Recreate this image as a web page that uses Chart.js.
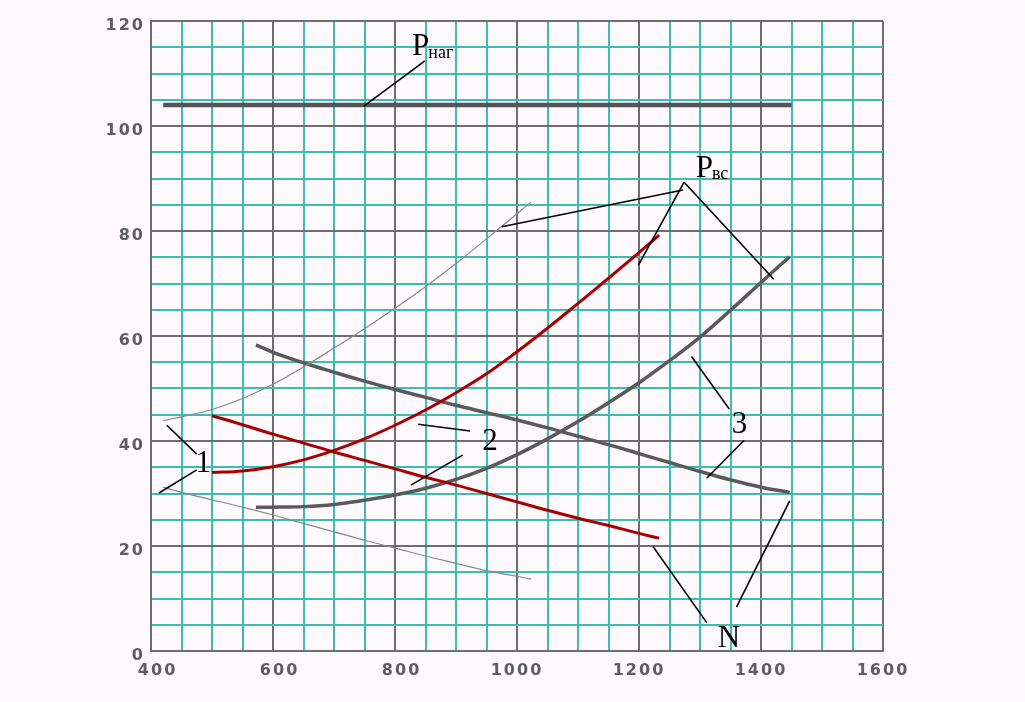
<!DOCTYPE html>
<html>
<head>
    <meta charset="utf-8">
    <title>P / N chart</title>
    <script src="https://cdn.jsdelivr.net/npm/chart.js"></script>
    <style>
        body { margin: 0; background: #fdf9fd; }
        #myChart { display: block; }
    </style>
</head>
<body>

<canvas id="myChart" width="1025" height="702"></canvas>

<script>
    // axis ticks
    const xTicks = { min: 400, max: 1600, step: 50, labelEvery: 200 };
    const yTicks = { min: 0, max: 120, step: 5, labelEvery: 20 };

    // P наг (flat line)
    const pNagX = [420, 1450];
    const pNagY = [104, 104];

    // curve set 1 (thin gray)
    const pvs1X = [420, 450, 500, 550, 600, 650, 700, 750, 800, 850, 900, 950, 1000, 1023];
    const pvs1Y = [43.9, 44.6, 46.0, 48.1, 50.8, 54.1, 57.7, 61.4, 65.3, 69.4, 73.8, 78.5, 83.3, 85.5];
    const n1X = [420, 450, 500, 550, 600, 650, 700, 750, 800, 850, 900, 950, 1000, 1023];
    const n1Y = [31.2, 30.2, 28.8, 27.4, 25.9, 24.3, 22.7, 21.1, 19.6, 18.1, 16.7, 15.3, 14.2, 13.7];

    // curve set 2 (red)
    const pvs2X = [500, 550, 600, 650, 700, 750, 800, 850, 900, 950, 1000, 1050, 1100, 1150, 1200, 1233];
    const pvs2Y = [34.0, 34.3, 35.1, 36.4, 38.2, 40.4, 43.0, 45.9, 49.2, 52.8, 57.0, 61.5, 66.2, 71.0, 75.9, 79.2];
    const n2X = [500, 550, 600, 650, 700, 750, 800, 850, 900, 950, 1000, 1050, 1100, 1150, 1200, 1233];
    const n2Y = [44.8, 43.1, 41.3, 39.6, 37.9, 36.3, 34.7, 33.1, 31.6, 30.0, 28.4, 26.8, 25.3, 23.9, 22.4, 21.5];

    // curve set 3 (dark gray)
    const pvs3X = [572, 600, 650, 700, 750, 800, 850, 900, 950, 1000, 1050, 1100, 1150, 1200, 1250, 1300, 1350, 1400, 1447];
    const pvs3Y = [27.4, 27.4, 27.5, 27.9, 28.7, 29.7, 31.0, 32.7, 34.8, 37.4, 40.4, 43.7, 47.3, 51.1, 55.3, 59.8, 64.9, 70.2, 75.1];
    const n3X = [572, 600, 650, 700, 750, 800, 850, 900, 950, 1000, 1050, 1100, 1150, 1200, 1250, 1300, 1350, 1400, 1447];
    const n3Y = [58.3, 56.9, 54.9, 53.1, 51.4, 49.8, 48.3, 46.8, 45.4, 44.0, 42.5, 40.9, 39.3, 37.6, 35.9, 34.2, 32.6, 31.2, 30.2];

    // leader lines, in data units: [x1, y1, x2, y2]
    const leaderLines = [
        [749, 103.8, 849, 112.4],      // P наг
        [975, 80.8, 1272, 87.8],       // P вс -> curve 1
        [1274, 89.3, 1199, 73.5],      // P вс -> curve 2
        [1274, 89.3, 1421, 70.8],      // P вс -> curve 3
        [426, 43.0, 475, 37.5],        // 1
        [413, 30.1, 475, 34.5],
        [838, 43.2, 923, 41.9],        // 2
        [826, 31.6, 911, 37.3],
        [1286, 56.1, 1348, 46.1],      // 3
        [1372, 40.1, 1311, 32.9],
        [1223, 19.9, 1311, 5.4],       // N
        [1447, 28.6, 1360, 8.4]
    ];

    // annotation texts (main text, subscript, x, baseline y)
    const noteTexts = [
        ['P', 'наг', 828, 113.5],
        ['P', 'вс', 1293, 90.3],
        ['1', '', 473, 34.1],
        ['2', '', 943, 38.3],
        ['3', '', 1352, 41.5],
        ['N', '', 1329, 0.7]
    ];

    function pts(xs, ys) {
        return xs.map((x, i) => ({ x: x, y: ys[i] }));
    }

    const TEAL = '#3bbdb4';
    const MAJOR = '#6e6e6e';

    function lineSet(label, xs, ys, color, width) {
        return {
            label: label,
            data: pts(xs, ys),
            borderColor: color,
            backgroundColor: color,
            borderWidth: width,
            pointRadius: 0,
            tension: 0.4,
            fill: false
        };
    }

    const bgPlugin = {
        id: 'bg',
        beforeDraw(chart) {
            const ctx = chart.ctx;
            ctx.save();
            ctx.fillStyle = '#fdf9fd';
            ctx.fillRect(0, 0, chart.width, chart.height);
            ctx.restore();
            ctx.letterSpacing = '2px';   // wide tick digits
        }
    };

    const notesPlugin = {
        id: 'notes',
        afterDatasetsDraw(chart) {
            const ctx = chart.ctx;
            const xs = chart.scales.x, ys = chart.scales.y;
            ctx.save();
            ctx.letterSpacing = '0px';
            ctx.strokeStyle = '#000';
            ctx.lineWidth = 1.6;
            leaderLines.forEach(l => {
                ctx.beginPath();
                ctx.moveTo(xs.getPixelForValue(l[0]), ys.getPixelForValue(l[1]));
                ctx.lineTo(xs.getPixelForValue(l[2]), ys.getPixelForValue(l[3]));
                ctx.stroke();
            });
            ctx.fillStyle = '#000';
            ctx.textBaseline = 'alphabetic';
            ctx.textAlign = 'left';
            noteTexts.forEach(t => {
                const px = xs.getPixelForValue(t[2]);
                const py = ys.getPixelForValue(t[3]);
                ctx.font = '31px "Liberation Serif"';
                ctx.fillText(t[0], px, py);
                if (t[1]) {
                    const w = ctx.measureText(t[0]).width;
                    ctx.font = '18px "Liberation Serif"';
                    ctx.fillText(t[1], px + w - 1, py + 2.5);
                }
            });
            ctx.restore();
        }
    };

    const config = {
        type: 'line',
        data: {
            datasets: [
                lineSet('P наг', pNagX, pNagY, '#555555', 4.5),
                lineSet('P вс 1', pvs1X, pvs1Y, '#8a8a8a', 1.2),
                lineSet('N 1', n1X, n1Y, '#8a8a8a', 1.2),
                lineSet('P вс 2', pvs2X, pvs2Y, '#a80000', 3),
                lineSet('N 2', n2X, n2Y, '#a80000', 3),
                lineSet('P вс 3', pvs3X, pvs3Y, '#5a5a5a', 3.5),
                lineSet('N 3', n3X, n3Y, '#5a5a5a', 3.5)
            ]
        },
        options: {
            responsive: false,
            animation: false,
            layout: { padding: { left: 0, top: 21, right: 142, bottom: 0 } },
            plugins: {
                legend: { display: false },
                tooltip: { enabled: false }
            },
            scales: {
                x: {
                    type: 'linear',
                    min: xTicks.min,
                    max: xTicks.max,
                    afterFit: s => { s.height = 51; },
                    border: { color: MAJOR, width: 2 },
                    grid: {
                        drawTicks: false,
                        lineWidth: 2,
                        color: c => (c.tick && c.tick.value % xTicks.labelEvery === 0) ? MAJOR : TEAL
                    },
                    ticks: {
                        stepSize: xTicks.step,
                        autoSkip: false,
                        maxRotation: 0,
                        padding: 10,
                        color: '#5e5e5e',
                        font: { family: 'DejaVu Sans', size: 16, weight: 'bold' },
                        callback: v => v % xTicks.labelEvery === 0 ? String(v).padStart(4, '\u2007') : ''
                    }
                },
                y: {
                    min: yTicks.min,
                    max: yTicks.max,
                    afterFit: s => { s.width = 151; },
                    border: { color: MAJOR, width: 2 },
                    grid: {
                        drawTicks: false,
                        lineWidth: 2,
                        color: c => (c.tick && c.tick.value % yTicks.labelEvery === 0) ? MAJOR : TEAL
                    },
                    ticks: {
                        stepSize: yTicks.step,
                        autoSkip: false,
                        padding: 6,
                        labelOffset: 5,
                        color: '#5e5e5e',
                        font: { family: 'DejaVu Sans', size: 16, weight: 'bold' },
                        callback: v => v % yTicks.labelEvery === 0 ? String(v) : ''
                    }
                }
            }
        },
        plugins: [bgPlugin, notesPlugin]
    };

    window.onload = function() {
        const ctx = document.getElementById('myChart').getContext('2d');
        new Chart(ctx, config);
    };
</script>

</body>
</html>
